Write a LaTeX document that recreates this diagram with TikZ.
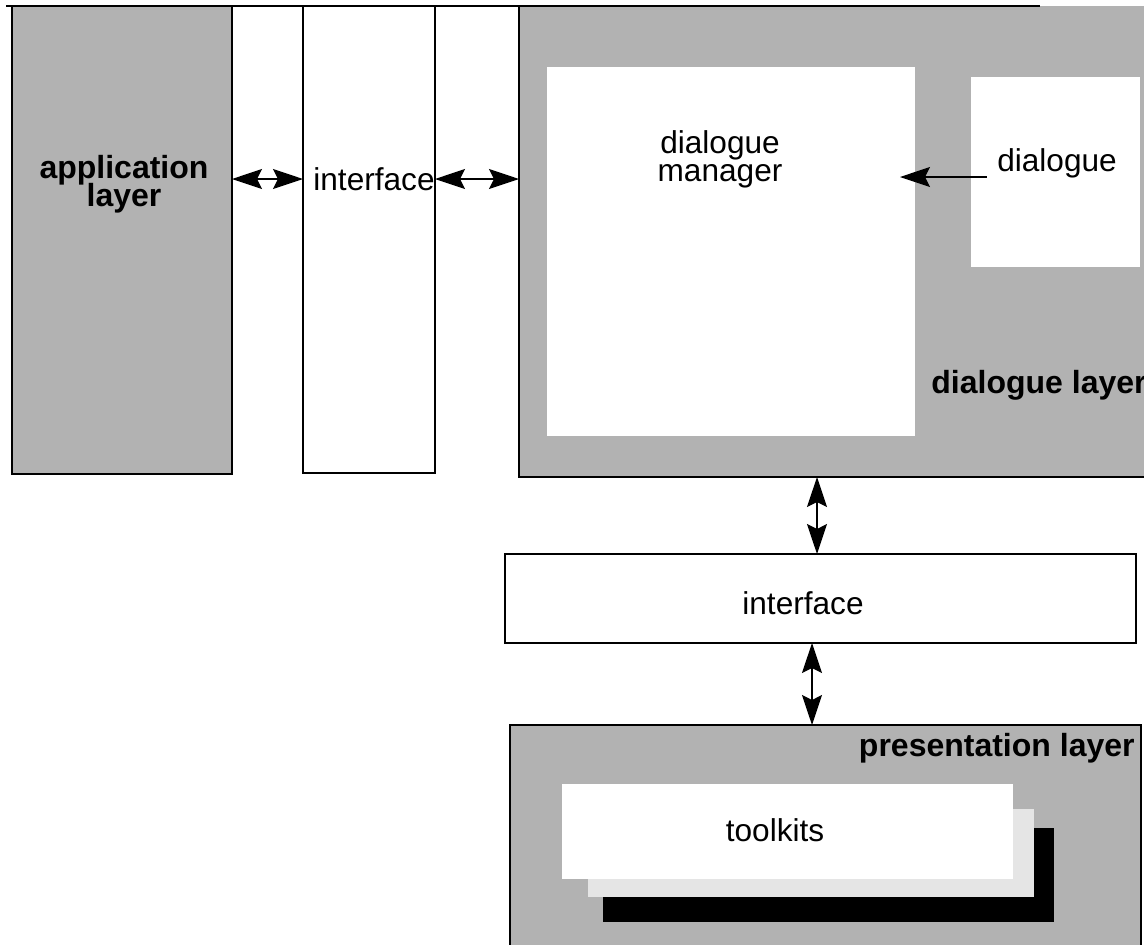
\documentclass[tikz,border=0pt]{standalone}
\usepackage{fontspec}
\setmainfont{Liberation Sans}
\usetikzlibrary{fit,arrows.meta}
\newcommand\tightlines{\lineskiplimit=-20pt\relax}
\begin{document}
\begin{tikzpicture}[x=0.5pt,y=-0.5pt]
\tikzset{layer/.style = {fill=black!30, inner sep=0pt, outer sep=0pt},
         blank/.style = {fill=white, inner sep=0pt, outer sep=0pt},
         edge/.style  = {draw, line width=0.8pt},
         txt/.style   = {font={\fontsize{15.8}{14}\selectfont\tightlines}, align=center, inner sep=0pt},
         btxt/.style  = {txt, font={\fontsize{16}{14}\selectfont\tightlines\bfseries}},
         tip/.tip     = {Stealth[length=15pt,width=10pt,inset=2.5pt]},
         link/.style  = {line width=0.6pt, tip-tip},
         feed/.style  = {line width=0.6pt, -tip}}
\useasboundingbox (0,0) rectangle (1144,944);
\clip (0,0) rectangle (1144,944);
% upper row
\node[layer,edge,fit={(12,6) (232,474)}] (app) {};
\node[blank,edge,fit={(303,6) (435,473)}] (if1) {};
\node[layer,fit={(519,6) (1170,477)}] (dl) {};
\draw[line width=0.8pt] (dl.north west) -- (dl.south west) -- (dl.south east);
\node[blank,fit={(547,67) (915,436)}] (dm) {};
\node[blank,fit={(971,77) (1140,267)}] (dlg) {};
\draw[line width=0.8pt] (6,6) -- (1040,6);
\node[btxt] (applbl) at (124,184) {application\\layer};
\node[txt] (if1lbl) at (374,179) {interface};
\node[txt] (dmlbl) at (720,159) {dialogue\\manager};
\node[txt] (dlglbl) at (1057,163) {dialogue};
\node[btxt,anchor=west] (dllbl) at (931,385) {dialogue layer};
\coordinate (dmtip) at (900,177);
\draw[link] (app.east |- if1lbl) -- (if1.west |- if1lbl);
\draw[link] (if1.east |- if1lbl) -- (dl.west |- if1lbl);
\draw[feed] ([xshift=-5pt]dlglbl.west |- dmtip) -- (dmtip);
% lower column
\node[blank,edge,fit={(505,554) (1136,643)}] (if2) {};
\node[txt] (if2lbl) at (803,603) {interface};
\node[layer,edge,fit={(510,725) (1141,970)}] (pl) {};
\node[btxt,anchor=east] (pllbl) at (1135,748) {presentation layer};
\node[fill=black,inner sep=0pt,fit={(603,828) (1054,922)}] (tk3) {};
\node[fill=black!10,inner sep=0pt,fit={(588,809) (1034,897)}] (tk2) {};
\node[blank,fit={(562,784) (1013,879)}] (tk1) {};
\node[txt] (tklbl) at (775,830) {toolkits};
\draw[link] (817,0 |- dl.south) -- (817,0 |- if2.north);
\draw[link] (812,0 |- if2.south) -- (812,0 |- pl.north);
\end{tikzpicture}
\end{document}
